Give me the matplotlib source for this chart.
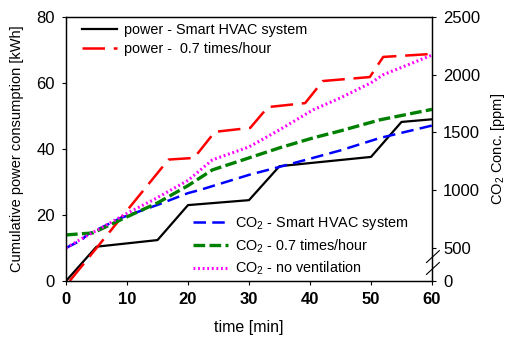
import matplotlib
matplotlib.use("Agg")
import matplotlib.pyplot as plt

plt.rcParams['font.family'] = ['Liberation Sans', 'DejaVu Sans']
plt.rcParams['mathtext.fontset'] = 'custom'
plt.rcParams['mathtext.rm'] = 'Liberation Sans'
plt.rcParams['mathtext.it'] = 'Liberation Sans:italic'

# power [kWh]
t_pow_smart = [0, 5, 15, 20, 30, 35, 50, 55, 60]
pow_smart = [0, 10.4, 12.4, 23, 24.5, 34.8, 37.6, 48.2, 49]
t_pow_07 = [0.6, 16.8, 21, 24.4, 30.2, 33.1, 39.2, 42.1, 49.8, 52, 60]
pow_07 = [0, 36.8, 37.3, 45.2, 46.4, 52.7, 53.9, 60.6, 61.8, 67.9, 68.8]

# CO2 [ppm]
t_co2_smart = [0, 2.6, 3.4, 9, 15, 20, 22, 30, 35, 40.5, 45, 51.5, 60]
co2_smart = [500, 570, 613, 760, 873, 975, 1003, 1133, 1202, 1280, 1345, 1453, 1560]
t_co2_07 = [0, 4.4, 10, 15, 20, 24, 30, 35, 40.5, 45, 51.5, 60]
co2_07 = [613, 630, 770, 890, 1040, 1176, 1280, 1367, 1453, 1514, 1610, 1700]
t_co2_none = [0, 2.8, 6, 10, 14.3, 20, 24, 30, 35, 40.5, 45, 50, 52, 60]
co2_none = [500, 587, 680, 800, 916, 1085, 1263, 1375, 1523, 1696, 1800, 1930, 2000, 2170]

co2_ticks = [500, 1000, 1500, 2000, 2500]
co2_bottom = 214  # value shown as "0" at the broken axis bottom

fig = plt.figure(figsize=(5.09, 3.4), dpi=100)
ax = fig.add_axes([66 / 509, 1 - 281 / 340, 366 / 509, 264 / 340])
ax2 = ax.twinx()

l1, = ax.plot(t_pow_smart, pow_smart, color='black', lw=1.6,
              label='power - Smart HVAC system')
l2, = ax.plot(t_pow_07, pow_07, color='red', lw=1.8, dashes=(9, 3.5),
              label='power -  0.7 times/hour')

l3, = ax2.plot(t_co2_smart, co2_smart, color='blue', lw=1.8, dashes=(5, 2.5),
               label='CO$_2$ - Smart HVAC system')
l4, = ax2.plot(t_co2_07, co2_07, color='green', lw=2.4, dashes=(3.5, 1.3),
               label='CO$_2$ - 0.7 times/hour')
l5, = ax2.plot(t_co2_none, co2_none, color='magenta', lw=2.2, ls=(0, (0.6, 0.9)),
               label='CO$_2$ - no ventilation')

ax.set_xlim(0, 60)
ax.set_ylim(0, 80)
ax.set_xticks(range(0, 61, 10))
ax.set_yticks(range(0, 81, 20))
ax.set_xlabel('time [min]', fontsize=11.5, labelpad=9)
ax.set_ylabel('Cumulative power consumption [kWh]', fontsize=10.5, labelpad=9)

ax2.set_ylim(co2_bottom, 2500)
ax2.set_yticks([co2_bottom] + co2_ticks)
ax2.set_yticklabels(['0'] + [str(v) for v in co2_ticks])
ax2.set_ylabel('CO$_2$ Conc. [ppm]', fontsize=10.5, labelpad=6)

for a in (ax, ax2):
    a.tick_params(direction='out', length=3, width=0.8, labelsize=12, pad=5)
    for s in a.spines.values():
        s.set_linewidth(0.9)
for lab in ax.get_xticklabels():
    lab.set_fontweight('bold')

# axis break marks on the right spine
for y0 in (0.025, 0.07):
    ax2.plot([0.985, 1.02], [y0, y0 + 0.045], transform=ax2.transAxes,
             color='black', lw=0.8, clip_on=False)

ax.legend(handles=[l1, l2], loc='upper left', bbox_to_anchor=(0.028, 1.0),
          borderaxespad=0, frameon=False, handlelength=2.4, handletextpad=0.5,
          labelspacing=0.35, fontsize=10.4)
ax2.legend(handles=[l3, l4, l5], loc='lower left', bbox_to_anchor=(0.331, -0.008),
           borderaxespad=0, frameon=False, handlelength=2.4, handletextpad=0.5,
           labelspacing=0.35, fontsize=10.4)

fig.savefig('out.png', dpi=100)
